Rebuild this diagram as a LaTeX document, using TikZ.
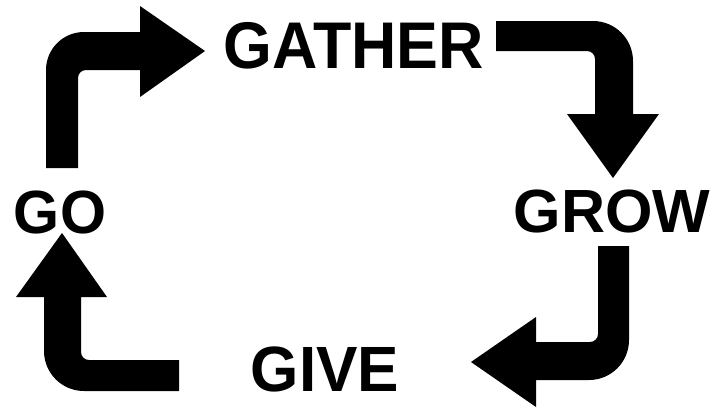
\documentclass[tikz,border=0pt]{standalone}
\usepackage{fontspec}
\setmainfont{Liberation Sans}
\begin{document}
\begin{tikzpicture}[x=1pt,y=-1pt,
  lbl/.style={inner sep=0pt,outer sep=0pt,anchor=base,font=\bfseries},
  bent/.style={fill=black,draw=none}]
\fill[white] (0,0) rectangle (716,408);
\useasboundingbox (0,0) rectangle (716,408);
% labels
\node[lbl] (gather) at (354,68) {\scalebox{0.95}[1]{\fontsize{66}{66}\selectfont GATHER}};
\node[lbl] (grow) at (612,232) {\fontsize{61}{61}\selectfont GROW};
\node[lbl] (go) at (60,233) {\scalebox{0.97}[1]{\fontsize{61}{61}\selectfont GO}};
\node[lbl] (give) at (325,391) {\scalebox{0.97}[1]{\fontsize{64}{64}\selectfont GIVE}};
% arrow GO -> GATHER
\fill[bent] (46,168) -- (46,70) arc[start angle=180,end angle=270,radius=38]
  -- (140,32) -- (140,6) -- (205,51) -- (140,97) -- (140,70) -- (86,70)
  arc[start angle=270,end angle=180,radius=8] -- (78,168) -- cycle;
% arrow GATHER -> GROW
\fill[bent] (496,21) -- (593,21) arc[start angle=270,end angle=360,radius=40]
  -- (633,114) -- (659,114) -- (613,178) -- (567,114) -- (595,114) -- (595,59)
  arc[start angle=0,end angle=-90,radius=8] -- (496,51) -- cycle;
% arrow GROW -> GIVE
\fill[bent] (598,246) -- (629,246) -- (629,340) arc[start angle=0,end angle=90,radius=40]
  -- (536,380) -- (536,407) -- (471,362) -- (536,317) -- (536,342) -- (590,342)
  arc[start angle=90,end angle=0,radius=8] -- cycle;
% arrow GIVE -> GO
\fill[bent] (179,360) -- (179,391) -- (84,391) arc[start angle=90,end angle=180,radius=40]
  -- (44,297) -- (16,297) -- (62,233) -- (107,297) -- (81,297) -- (81,352)
  arc[start angle=180,end angle=90,radius=8] -- cycle;
\end{tikzpicture}
\end{document}
